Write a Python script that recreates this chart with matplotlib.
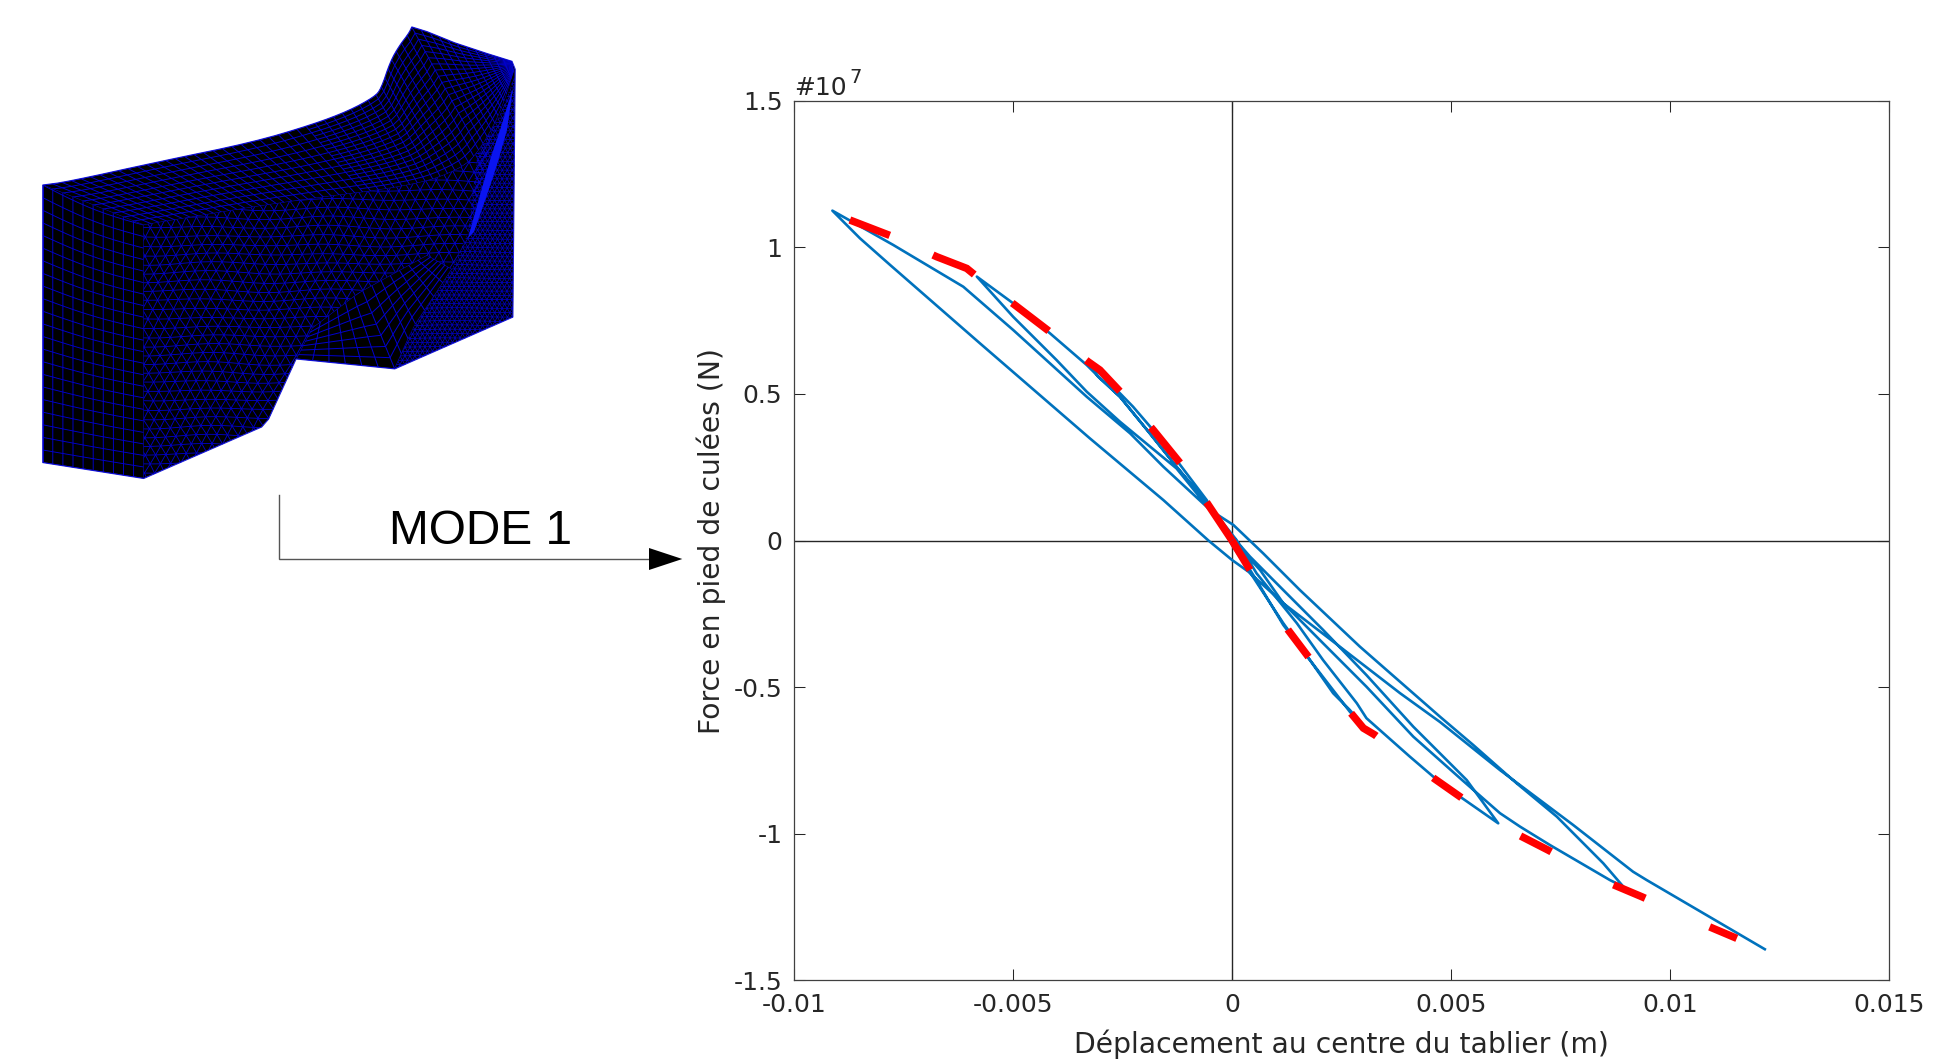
import numpy as np
import matplotlib
matplotlib.use("Agg")
import matplotlib.pyplot as plt
from matplotlib.collections import LineCollection
from matplotlib.patches import Polygon

# ---------- curve data (x in m, y in 1e7 N) ----------
blue_x = [0.0, 0.00060, 0.00117, 0.00178, 0.00231, 0.00269, 0.00315,
          0.00269, 0.00178, 0.00117, 0.00060, 0.0, -0.00058, -0.00127, -0.00184, -0.00226, -0.00256, -0.00302, -0.00325,
          -0.00306, -0.00256, -0.00188, -0.00127, -0.0005, 0.0001, 0.00056, 0.00148, 0.00208, 0.00285, 0.00307, 0.00406, 0.0046, 0.00521, 0.00608,
          0.00536, 0.00414, 0.00307, 0.00208, 0.00117, 0.00041, -0.00012, -0.0005, -0.00127, -0.00188, -0.00256, -0.00309, -0.00332, -0.00416, -0.005, -0.00583,
          -0.005, -0.00401, -0.00332, -0.00256, -0.00127, -0.0005, 0.0, 0.00064, 0.00117, 0.00208, 0.00307, 0.00414, 0.00521, 0.00612, 0.00658, 0.00726, 0.00863, 0.00894,
          0.00848, 0.00742, 0.0065, 0.00551, 0.00475, 0.00292, 0.00155, 0.00071, 0.00003, -0.0005, -0.00157, -0.00233, -0.00332, -0.005, -0.00614, -0.00774, -0.00913,
          -0.0085, -0.00781, -0.00576, -0.00325, -0.00157, -0.00054, 0.0, 0.00037, 0.00117, 0.00246, 0.00384, 0.00475, 0.00612, 0.00779, 0.00916, 0.00947, 0.01217]
blue_y = [0.0, -0.146, -0.288, -0.408, -0.521, -0.578, -0.657,
          -0.584, -0.408, -0.282, -0.152, -0.015, 0.138, 0.2745, 0.383, 0.456, 0.502, 0.570, 0.5985,
          0.5587, 0.490, 0.3656, 0.2517, 0.115, 0.002, -0.112, -0.282, -0.408, -0.555, -0.606, -0.737, -0.806, -0.874, -0.9645,
          -0.817, -0.635, -0.459, -0.305, -0.169, -0.055, 0.036, 0.115, 0.2517, 0.3656, 0.490, 0.5645, 0.5985, 0.7067, 0.809, 0.900,
          0.763, 0.6156, 0.5075, 0.405, 0.246, 0.104, 0.002, -0.1006, -0.214, -0.3506, -0.4986, -0.669, -0.811, -0.930, -0.976, -1.0385, -1.158, -1.181,
          -1.101, -0.942, -0.828, -0.6975, -0.601, -0.362, -0.169, -0.0437, 0.053, 0.104, 0.2517, 0.3656, 0.4903, 0.718, 0.8656, 1.008, 1.125,
          1.0307, 0.9396, 0.6726, 0.3486, 0.138, 0.0, -0.0665, -0.106, -0.214, -0.362, -0.521, -0.619, -0.783, -0.970, -1.1296, -1.158, -1.394]

red_left_x = [0.0, -0.00115, -0.00180, -0.00252, -0.00302, -0.00329, -0.00412, -0.00496, -0.00583, -0.00606, -0.00675, -0.00774, -0.00873]
red_left_y = [0.0, 0.2575, 0.377, 0.502, 0.5815, 0.610, 0.707, 0.803, 0.900, 0.928, 0.968, 1.036, 1.093]
red_right_x = [0.0, 0.00041, 0.00128, 0.00174, 0.00269, 0.00300, 0.00326, 0.00456, 0.00521, 0.00654, 0.00722, 0.00863, 0.00936, 0.0108, 0.01153]
red_right_y = [0.0, -0.1006, -0.305, -0.396, -0.584, -0.640, -0.663, -0.806, -0.874, -1.004, -1.056, -1.169, -1.215, -1.311, -1.357]

x_ticks = [-0.01, -0.005, 0, 0.005, 0.01, 0.015]
x_tick_labels = ['-0.01', '-0.005', '0', '0.005', '0.01', '0.015']
y_ticks = [-1.5, -1, -0.5, 0, 0.5, 1, 1.5]
y_tick_labels = ['-1.5', '-1', '-0.5', '0', '0.5', '1', '1.5']
x_label = 'Déplacement au centre du tablier (m)'
y_label = 'Force en pied de culées (N)'
mode_label = 'MODE 1'


def chaikin(poly, it=2):
    p = np.array(poly, float)
    for _ in range(it):
        q = [p[0]]
        for a, b in zip(p[:-1], p[1:]):
            q += [0.75 * a + 0.25 * b, 0.25 * a + 0.75 * b]
        q.append(p[-1])
        p = np.array(q)
    return [tuple(v) for v in p]


# ---------- illustration outlines (picture pixels) ----------
far_curve = chaikin([(42.7,185),(66.6,181.9),(160.7,161.3),(252.5,142.3),(312.2,124.6),(349,110.7),(374.2,96.9),(381,89),
                     (390.3,61.3),(399.4,45.5),(408.6,33.6),(411.8,26.9)])
far_tail = [(427,31.6),(454.5,42.7),(486.7,53.4),(512,61.3)]
deck_far = far_curve + far_tail
near_curve = chaikin([(143.5,225),(284.7,201.7),(413,186),(459,170),(477.5,154),(500,114.7),(514,71)])
outline = [(42.7,462.6)] + deck_far + [(515.2,69.2),(512.9,317.1),(394.8,368.9),(296.1,359),(268.6,419.1),(261.7,427),(143.7,478.5)]
deck_near = near_curve
front_face = near_curve[:-6] + [(468,233),(452,269),(427,255),(358,293),(312,328),(296.1,359),(268.6,419.1),(261.7,427),(143.7,478.5)]
recess_top = [(312,328),(358,293),(427,255)]
recess_bot = [(296.1,359),(394.8,368.9),(413,328),(452,269)]
recess_face = [(296.1,359),(394.8,368.9),(413,328),(452,269),(427,255),(358,293),(312,328)]
right_face = [(394.8,368.9),(512.9,317.1),(515,75),(500,115),(477.5,154),(468,233),(452,269),(413,328)]
ridge = [(513,88),(500,130),(490,160),(480,195),(468,238),(474,232),(487,195),(497,165),(507,130)]

BLUE = '#0000d0'

fig = plt.figure(figsize=(19.6, 10.61), dpi=100, facecolor='white')
plt.rcParams['font.family'] = 'DejaVu Sans'

# ---------- overlay for the illustration ----------
ov = fig.add_axes([0, 0, 1, 1])
ov.set_xlim(0, 1960); ov.set_ylim(1061, 0); ov.axis('off')
ov.add_patch(Polygon(outline, closed=True, fc='black', ec='#2020e0', lw=0.8, zorder=1))


def resample(poly, n):
    p = np.array(poly, float)
    s = np.r_[0, np.cumsum(np.hypot(*np.diff(p, axis=0).T))]
    t = np.linspace(0, s[-1], n)
    return np.c_[np.interp(t, s, p[:, 0]), np.interp(t, s, p[:, 1])]


def add_lines(segs, clip, lw=0.65, color=BLUE, z=2):
    lc = LineCollection(segs, colors=color, linewidths=lw, zorder=z)
    ov.add_collection(lc)
    patch = Polygon(clip, closed=True, transform=ov.transData, fc='none', ec='none')
    ov.add_patch(patch)
    lc.set_clip_path(patch)


def grid_between(a, b, nu, nv, extra_from=None):
    A, B = resample(a, nu), resample(b, nu)
    segs = []
    g = np.array([A + (B - A) * v for v in np.linspace(0, 1, nv)])
    for i in range(nv):
        if extra_from is not None and i % 2:
            segs.append(g[i][extra_from:])
        else:
            segs.append(g[i])
    for j in range(nu):
        segs.append(g[:, j])
    return segs


def tri_lattice(poly, sp, wob=1.2):
    p = np.array(poly)
    x0, y0 = p.min(0) - sp
    x1, y1 = p.max(0) + sp
    nx = int((x1 - x0) / sp) + 2
    ny = int((y1 - y0) / (sp * 0.866)) + 2
    ii, jj = np.meshgrid(np.arange(nx), np.arange(ny), indexing='ij')
    X = x0 + (ii + 0.5 * (jj % 2)) * sp
    Y = y0 + jj * sp * 0.866
    Xw = X + wob * np.sin(Y / 17.0) + wob * 0.6 * np.sin(X / 23.0 + Y / 31.0)
    Yw = Y + wob * np.sin(X / 19.0) + wob * 0.6 * np.cos(Y / 13.0 + X / 29.0)
    segs = []
    for i in range(nx):
        for j in range(ny):
            a = (Xw[i, j], Yw[i, j])
            if i + 1 < nx:
                segs.append([a, (Xw[i + 1, j], Yw[i + 1, j])])
            if j + 1 < ny:
                segs.append([a, (Xw[i, j + 1], Yw[i, j + 1])])
                k = i + 1 if j % 2 else i - 1
                if 0 <= k < nx:
                    segs.append([a, (Xw[k, j + 1], Yw[k, j + 1])])
    return segs


# left end face
TL, TR, BR, BL = map(np.array, [(42.7, 185), (143.5, 225), (143.7, 478.5), (42.7, 462.6)])
left_segs = []
for v in np.linspace(0, 1, 23):
    a = TL + (BL - TL) * v
    b = TR + (BR - TR) * v
    u = np.linspace(0, 1, 12)
    line = a[None] * (1 - u[:, None]) + b[None] * u[:, None]
    line[:, 1] += 4 * np.sin(np.pi * u) * (1 - v)
    left_segs.append(line)
for u in np.linspace(0, 1, 11):
    a = TL + (TR - TL) * u
    b = BL + (BR - BL) * u
    left_segs.append([a, b])
add_lines(left_segs, [TL, TR, BR, BL])
# deck
add_lines(grid_between(deck_far, deck_near, 56, 21, extra_from=28), deck_far + deck_near[::-1])
# front face
add_lines(tri_lattice(front_face, 10.5), front_face, lw=0.6)
# recess
add_lines(grid_between(recess_top, recess_bot, 14, 8), recess_face, lw=0.7)
# right face
add_lines(tri_lattice(right_face, 5.0, wob=0.4), right_face, lw=0.5)
ov.add_patch(Polygon(ridge, closed=True, fc='#0a14f0', ec='none', zorder=3))

# arrow and label
ov.plot([279, 279, 652], [495, 559, 559], color='#555555', lw=1.0, zorder=2, solid_joinstyle='miter')
head_x = [649, 682.3, 649]
head_y = [548, 559, 570]
ov.add_patch(Polygon(list(zip(head_x, head_y)), closed=True, fc='black', ec='none', zorder=3))
ov.text(480.7, 544, mode_label, family='Liberation Sans', fontsize=34.5, color='black', ha='center', va='baseline')

# ---------- chart ----------
ax = fig.add_axes([794.3 / 1960, 1 - 980.3 / 1061, 1094.4 / 1960, 879.6 / 1061], facecolor='white')
ax.set_xlim(-0.01, 0.015)
ax.set_ylim(-1.5, 1.5)
ax.axhline(0, color='#262626', lw=1.0, zorder=1)
ax.axvline(0, color='#262626', lw=1.0, zorder=1)
ax.plot(blue_x, blue_y, color='#0072BD', lw=1.9, zorder=2, solid_joinstyle='round')
LW = 5.4
LWPX = LW * 100 / 72
ax.plot(red_left_x, red_left_y, color='#ff0000', lw=LW, zorder=3, dash_capstyle='butt',
        dash_joinstyle='miter', linestyle=(0, (46 / LWPX, 47.5 / LWPX)))
ax.plot(red_right_x, red_right_y, color='#ff0000', lw=LW, zorder=3, dash_capstyle='butt',
        dash_joinstyle='miter', linestyle=(0, (34.5 / LWPX, 70.5 / LWPX)))

ax.set_xticks(x_ticks, x_tick_labels)
ax.set_yticks(y_ticks, y_tick_labels)
ax.tick_params(axis='both', which='major', direction='in', top=True, right=True, length=8, width=0.75,
               color='#262626', labelcolor='#262626', labelsize=18)
ax.tick_params(axis='x', pad=9.5)
ax.tick_params(axis='y', pad=8.5)
for s in ax.spines.values():
    s.set_color('#404040')
    s.set_linewidth(0.9)
ax.set_xlabel(x_label, fontsize=20.35, color='#262626', labelpad=8.5)
ax.set_ylabel(y_label, fontsize=20.35, color='#262626', labelpad=5.5)

ov.text(794, 95, '#10', fontsize=18, color='#262626', ha='left', va='baseline', zorder=5)
ov.text(849, 82.7, '7', fontsize=14, color='#262626', ha='left', va='baseline', zorder=5)

fig.savefig('out.png', dpi=100, facecolor='white')
